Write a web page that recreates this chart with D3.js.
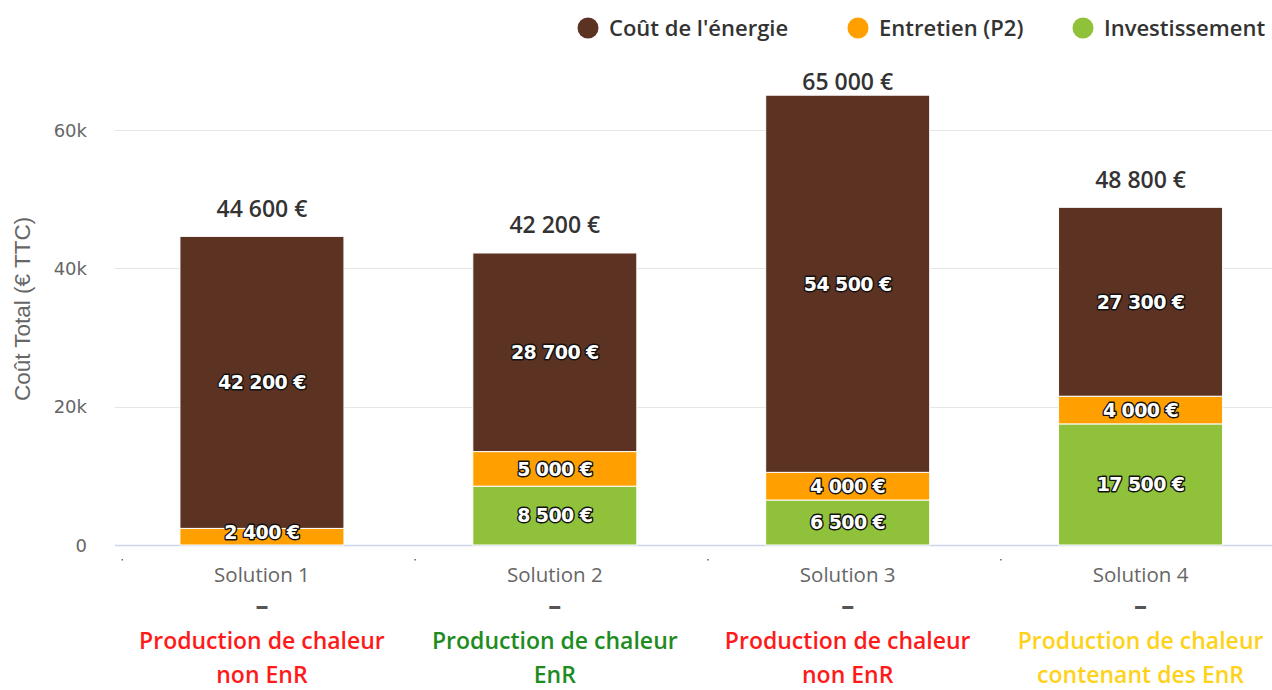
<!DOCTYPE html>
<html>
<head>
<meta charset="UTF-8">
<title>Coût total par solution</title>
<script src="https://cdn.jsdelivr.net/npm/d3@7/dist/d3.min.js"></script>
<style>
  body { margin: 0; background: #fff; }
  svg { display: block; }
</style>
</head>
<body>
<script>
// données
var solutions = ["Solution 1", "Solution 2", "Solution 3", "Solution 4"];
var typeLignes = [["Production de chaleur", "non EnR"],
                  ["Production de chaleur", "EnR"],
                  ["Production de chaleur", "non EnR"],
                  ["Production de chaleur", "contenant des EnR"]];
var typeCouleurs = ["#ff1a1a", "#1e8c1e", "#ff1a1a", "#ffd21a"];

var seriesNoms = ["Investissement", "Entretien (P2)", "Coût de l'énergie"];
var investissement = [0, 8500, 6500, 17500];
var entretien = [2400, 5000, 4000, 4000];
var energie = [42200, 28700, 54500, 27300];
var couleurs = ["#8fc23a", "#ffa000", "#5c3223"];
var yTicks = [0, 20000, 40000, 60000];

var W = 1272, H = 690;
var svg = d3.select("body").append("svg").attr("width", W).attr("height", H);

var x = d3.scaleBand().domain(solutions).range([115.5, 1287])
          .paddingInner(0.44).paddingOuter(0.22);
var y = d3.scaleLinear().domain([0, 70000]).range([545, 60.6]);

var fmt = function(v){ return d3.format(",")(v).replace(/,/g, " ") + " €"; };

// grille
svg.append("g").selectAll("line").data(yTicks.slice(1)).enter().append("line")
  .attr("x1", 115).attr("x2", 1287)
  .attr("y1", function(d){ return Math.round(y(d)) + 0.5; })
  .attr("y2", function(d){ return Math.round(y(d)) + 0.5; })
  .attr("stroke", "#e6e6e6").attr("stroke-width", 1);

// axe Y (libellés seulement)
var yAxis = svg.append("g").attr("transform", "translate(94,0)")
  .call(d3.axisLeft(y).tickValues(yTicks).tickSize(0)
        .tickFormat(function(d){ return d === 0 ? "0" : (d / 1000) + "k"; }));
yAxis.select(".domain").remove();
yAxis.selectAll("text").attr("font-family", "'DejaVu Sans', sans-serif")
  .attr("font-size", 18).attr("fill", "#666").attr("dx", -4).attr("dy", "0.35em");

// titre axe Y
svg.append("text")
  .attr("transform", "translate(30,309) rotate(-90)")
  .attr("text-anchor", "middle")
  .attr("font-family", "'Liberation Sans', Arial, sans-serif")
  .attr("font-size", 22.5).attr("fill", "#666")
  .text("Coût Total (€ TTC)");

// ligne de base
svg.append("line").attr("x1", 115).attr("x2", 1287).attr("y1", 545.5).attr("y2", 545.5)
  .attr("stroke", "#ccd6eb").attr("stroke-width", 1.5);

// petites marques
svg.append("g").selectAll("rect").data(solutions).enter().append("rect")
  .attr("x", function(d){ return x(d) - x.step() * 0.22 + 6; }).attr("y", 559)
  .attr("width", 1.5).attr("height", 1.5).attr("fill", "#666");

// empilement
var table = solutions.map(function(s, i){
  return { sol: s, inv: investissement[i], ent: entretien[i], ene: energie[i] };
});
var stack = d3.stack().keys(["inv", "ent", "ene"])(table);

var groupes = svg.append("g").selectAll("g").data(stack).enter().append("g")
  .attr("fill", function(d, i){ return couleurs[i]; });

groupes.selectAll("rect").data(function(d){ return d; }).enter()
  .filter(function(d){ return d[1] - d[0] > 0; })
  .append("rect")
  .attr("x", function(d){ return x(d.data.sol); })
  .attr("width", x.bandwidth())
  .attr("y", function(d){ return y(d[1]); })
  .attr("height", function(d){ return y(d[0]) - y(d[1]); })
  .attr("stroke", "#fff").attr("stroke-width", 1);

// étiquettes des segments
stack.forEach(function(serie){
  serie.forEach(function(d){
    var v = d[1] - d[0];
    if (v <= 0) return;
    var cy = Math.min((y(d[0]) + y(d[1])) / 2, 532);
    svg.append("text")
      .attr("x", x(d.data.sol) + x.bandwidth() / 2)
      .attr("y", cy).attr("dy", "0.36em")
      .attr("text-anchor", "middle")
      .attr("font-family", "'DejaVu Sans', Verdana, sans-serif")
      .attr("font-weight", "bold").attr("font-size", 19)
      .attr("letter-spacing", -0.6)
      .attr("fill", "#fff")
      .attr("stroke", "#111").attr("stroke-width", 2.8)
      .attr("stroke-linejoin", "round")
      .attr("paint-order", "stroke")
      .text(fmt(v));
  });
});

// totaux
svg.append("g").selectAll("text").data(table).enter().append("text")
  .attr("x", function(d){ return x(d.sol) + x.bandwidth() / 2; })
  .attr("y", function(d){ return Math.max(y(d.inv + d.ent + d.ene) - 28, 82); })
  .attr("dy", "0.36em").attr("text-anchor", "middle")
  .attr("font-family", "'Open Sans', sans-serif").attr("font-weight", 600)
  .attr("font-size", 23).attr("fill", "#333")
  .text(function(d){ return fmt(d.inv + d.ent + d.ene); });

// libellés catégories
var cat = svg.append("g").selectAll("g").data(solutions).enter().append("g")
  .attr("transform", function(d){ return "translate(" + (x(d) + x.bandwidth() / 2) + ",0)"; })
  .attr("text-anchor", "middle");
cat.append("text").attr("y", 575).attr("dy", "0.36em")
  .attr("font-family", "'Open Sans', sans-serif").attr("font-size", 20.5).attr("fill", "#666")
  .text(function(d){ return d; });
cat.append("text").attr("y", 606).attr("dy", "0.36em")
  .attr("font-family", "'Open Sans', sans-serif").attr("font-weight", 700)
  .attr("font-size", 26).attr("fill", "#555")
  .text("–");
cat.each(function(d, i){
  var g = d3.select(this);
  typeLignes[i].forEach(function(l, j){
    g.append("text").attr("y", 641 + j * 34).attr("dy", "0.36em")
      .attr("font-family", "'Open Sans', sans-serif").attr("font-weight", 600)
      .attr("font-size", 23).attr("fill", typeCouleurs[i])
      .text(l);
  });
});

// légende
var legItems = [2, 1, 0];
var legX = [588, 858, 1083];
var leg = svg.append("g").selectAll("g").data(legItems).enter().append("g")
  .attr("transform", function(d, i){ return "translate(" + legX[i] + ",28)"; });
leg.append("circle").attr("r", 10.5).attr("fill", function(d){ return couleurs[d]; });
leg.append("text").attr("x", 21).attr("dy", "0.36em")
  .attr("font-family", "'Open Sans', sans-serif").attr("font-weight", 600)
  .attr("font-size", 22).attr("fill", "#333")
  .text(function(d){ return seriesNoms[d]; });
</script>
</body>
</html>
